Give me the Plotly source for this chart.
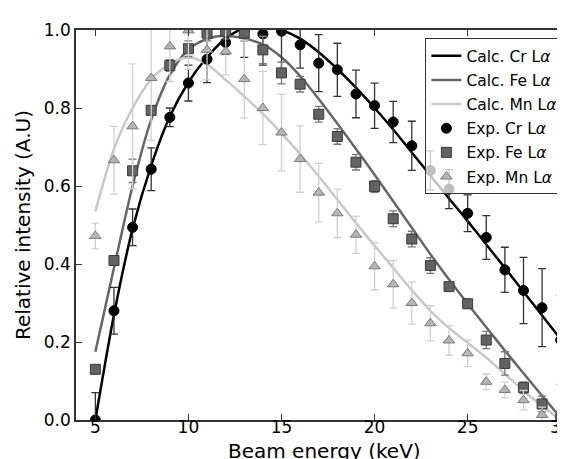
import plotly.graph_objects as go

energy = list(range(5, 31))

calc_cr = [0.0, 0.27, 0.49, 0.652, 0.778, 0.866, 0.93, 0.978, 1.005, 1.012, 1.0, 0.978, 0.943,
           0.90, 0.852, 0.80, 0.745, 0.686, 0.627, 0.568, 0.51, 0.45, 0.39, 0.329, 0.268, 0.207]
calc_fe = [0.175, 0.39, 0.60, 0.77, 0.885, 0.95, 0.977, 0.985, 0.978, 0.963, 0.93, 0.882, 0.823,
           0.76, 0.695, 0.629, 0.561, 0.493, 0.425, 0.36, 0.298, 0.238, 0.178, 0.12, 0.062, 0.006]
calc_mn = [0.535, 0.695, 0.80, 0.873, 0.913, 0.93, 0.912, 0.872, 0.83, 0.785, 0.735, 0.682, 0.625,
           0.565, 0.505, 0.447, 0.39, 0.333, 0.28, 0.236, 0.198, 0.16, 0.118, 0.075, 0.036, 0.0]

exp_cr = [0.0, 0.28, 0.494, 0.643, 0.776, 0.864, 0.925, 0.968, 1.0, 0.99, 0.997, 0.962, 0.915,
          0.898, 0.836, 0.806, 0.764, 0.703, 0.64, 0.592, 0.53, 0.468, 0.385, 0.332, 0.288, 0.205]
err_cr = [0.07, 0.06, 0.047, 0.055, 0.024, 0.046, 0.06, 0.03, 0.07, 0.08, 0.10, 0.06, 0.073,
          0.068, 0.061, 0.058, 0.053, 0.063, 0.05, 0.05, 0.047, 0.056, 0.058, 0.085, 0.10, 0.114]

exp_fe = [0.13, 0.409, 0.639, 0.794, 0.909, 0.952, 0.992, 0.997, 0.992, 0.949, 0.89, 0.861, 0.784,
          0.727, 0.661, 0.599, 0.516, 0.464, 0.396, 0.342, 0.298, 0.205, 0.145, 0.083, 0.041, 0.003]
err_fe = [0.01, 0.01, 0.03, 0.012, 0.015, 0.02, 0.02, 0.02, 0.02, 0.035, 0.028, 0.02, 0.02,
          0.02, 0.02, 0.015, 0.02, 0.02, 0.02, 0.01, 0.012, 0.022, 0.03, 0.015, 0.02, 0.01]

exp_mn = [0.472, 0.666, 0.753, 0.877, 0.958, 0.999, 0.949, 0.945, 0.874, 0.80, 0.737, 0.669, 0.583,
          0.53, 0.475, 0.394, 0.348, 0.30, 0.248, 0.204, 0.171, 0.098, 0.077, 0.051, 0.013, 0.0]
err_mn = [0.033, 0.087, 0.16, 0.16, 0.09, 0.1, 0.077, 0.06, 0.1, 0.094, 0.098, 0.085, 0.075,
          0.062, 0.048, 0.06, 0.061, 0.054, 0.045, 0.038, 0.034, 0.02, 0.02, 0.025, 0.02, 0.035]

FONT = "DejaVu Sans"
fig = go.Figure()

for i, (name, ys, col) in enumerate([("Calc. Cr L<i>α</i>", calc_cr, "#000000"),
                                     ("Calc. Fe L<i>α</i>", calc_fe, "#666666"),
                                     ("Calc. Mn L<i>α</i>", calc_mn, "#c8c8c8")]):
    fig.add_trace(go.Scatter(x=energy, y=ys, mode="lines", name=name, legendgroup=f"g{i}",
                             line=dict(color=col, width=2.5, shape="spline", smoothing=0.8)))

for i, (name, ys, es, sym, fill, edge, ecol) in enumerate([
        ("Exp. Cr L<i>α</i>", exp_cr, err_cr, "circle", "#000000", "#000000", "#333333"),
        ("Exp. Fe L<i>α</i>", exp_fe, err_fe, "square", "#636363", "#3a3a3a", "#777777"),
        ("Exp. Mn L<i>α</i>", exp_mn, err_mn, "triangle-up", "#b5b5b5", "#7a7a7a", "#d0d0d0")]):
    fig.add_trace(go.Scatter(x=energy, y=ys, mode="markers", name=name, legendgroup=f"h{i}",
                             marker=dict(symbol=sym, size=10, color=fill,
                                         line=dict(color=edge, width=1)),
                             error_y=dict(type="data", array=es, visible=True,
                                          color=ecol, thickness=1.3, width=4)))

fig.update_layout(
    width=565, height=459,
    margin=dict(l=68, r=0, t=22, b=47),
    paper_bgcolor="white", plot_bgcolor="white",
    font=dict(family=FONT, color="#000000", size=17),
    showlegend=True,
    legend=dict(x=0.703, y=0.979, xanchor="left", yanchor="top",
                bgcolor="rgba(255,255,255,0.75)", bordercolor="#333333", borderwidth=1,
                font=dict(family=FONT, size=15.5, color="#000000"),
                traceorder="grouped", tracegroupgap=1),
    annotations=[dict(text="Beam energy (keV)", xref="paper", yref="paper",
                      x=0.5, y=-0.08, xanchor="center", yanchor="middle",
                      showarrow=False, font=dict(family=FONT, size=20, color="#000000"))],
)
fig.update_xaxes(range=[3.96, 30.66], tickvals=[5, 10, 15, 20, 25, 30],
                 ticks="inside", ticklen=6, tickcolor="#333333",
                 showline=True, linecolor="#333333", linewidth=1.5, mirror="ticks",
                 showgrid=False, zeroline=False, ticklabelstandoff=-9,
                 tickfont=dict(size=17))
fig.update_yaxes(range=[0, 1], tickvals=[0, 0.2, 0.4, 0.6, 0.8, 1.0], tickformat=".1f",
                 ticks="inside", ticklen=6, tickcolor="#333333",
                 showline=True, linecolor="#333333", linewidth=1.5, mirror=False,
                 showgrid=False, zeroline=False,
                 tickfont=dict(size=17),
                 title=dict(text="Relative intensity (A.U)", font=dict(size=20), standoff=8))

fig.write_html("out.html")
